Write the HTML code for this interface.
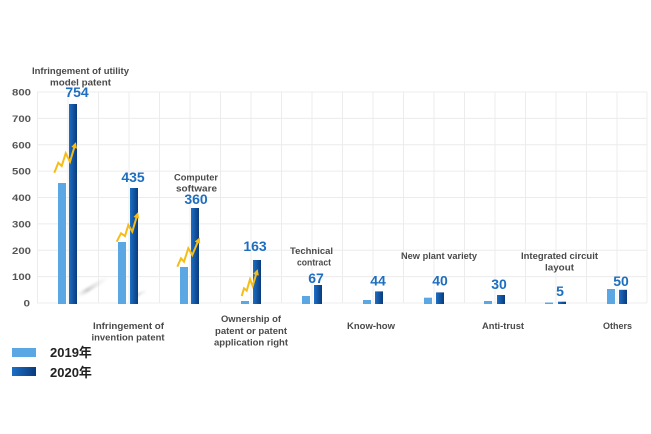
<!DOCTYPE html>
<html>
<head>
<meta charset="utf-8">
<style>
html,body{margin:0;padding:0;background:#fff;}
svg{display:block;}
text{font-family:"Liberation Sans","Noto Sans CJK SC",sans-serif;font-weight:bold;}
.cat{font-size:9.3px;fill:#4a4a4a;text-anchor:middle;}
.val{font-size:14px;fill:#1e6ebf;text-anchor:middle;}
.ax{font-size:9px;fill:#555;text-anchor:end;}
</style>
</head>
<body>
<svg width="651" height="434" viewBox="0 0 651 434" xmlns="http://www.w3.org/2000/svg">
<defs>
<linearGradient id="g20" x1="0" y1="0" x2="1" y2="0">
<stop offset="0" stop-color="#1b6fc6"/>
<stop offset="1" stop-color="#0a3b7c"/>
</linearGradient>
<linearGradient id="sh" x1="0" y1="1" x2="1" y2="0">
<stop offset="0" stop-color="#d0d0d0" stop-opacity="0"/>
<stop offset="0.3" stop-color="#c8c8c8" stop-opacity="0.9"/>
<stop offset="1" stop-color="#e0e0e0" stop-opacity="0"/>
</linearGradient>
<filter id="bl"><feGaussianBlur stdDeviation="1"/></filter>
<marker id="ah" markerWidth="6" markerHeight="6" refX="3" refY="3" orient="auto" markerUnits="userSpaceOnUse">
<path d="M0,0 L6,3 L0,6 z" fill="#f6bd16"/>
</marker>
</defs>
<rect width="651" height="434" fill="#fff"/>

<!-- grid -->
<g stroke="#ececec" stroke-width="1">
<line x1="37" y1="92" x2="647" y2="92"/>
<line x1="37" y1="118.4" x2="647" y2="118.4"/>
<line x1="37" y1="144.8" x2="647" y2="144.8"/>
<line x1="37" y1="171.1" x2="647" y2="171.1"/>
<line x1="37" y1="197.5" x2="647" y2="197.5"/>
<line x1="37" y1="223.9" x2="647" y2="223.9"/>
<line x1="37" y1="250.3" x2="647" y2="250.3"/>
<line x1="37" y1="276.6" x2="647" y2="276.6"/>
<line x1="37" y1="303" x2="647" y2="303"/>
<line x1="37.5" y1="92" x2="37.5" y2="303"/>
<line x1="68" y1="92" x2="68" y2="303"/>
<line x1="98.5" y1="92" x2="98.5" y2="303"/>
<line x1="129" y1="92" x2="129" y2="303"/>
<line x1="159.5" y1="92" x2="159.5" y2="303"/>
<line x1="190" y1="92" x2="190" y2="303"/>
<line x1="220.5" y1="92" x2="220.5" y2="303"/>
<line x1="251" y1="92" x2="251" y2="303"/>
<line x1="281.5" y1="92" x2="281.5" y2="303"/>
<line x1="312" y1="92" x2="312" y2="303"/>
<line x1="342.5" y1="92" x2="342.5" y2="303"/>
<line x1="373" y1="92" x2="373" y2="303"/>
<line x1="403.5" y1="92" x2="403.5" y2="303"/>
<line x1="434" y1="92" x2="434" y2="303"/>
<line x1="464.5" y1="92" x2="464.5" y2="303"/>
<line x1="495" y1="92" x2="495" y2="303"/>
<line x1="525.5" y1="92" x2="525.5" y2="303"/>
<line x1="556" y1="92" x2="556" y2="303"/>
<line x1="586.5" y1="92" x2="586.5" y2="303"/>
<line x1="617" y1="92" x2="617" y2="303"/>
<line x1="647" y1="92" x2="647" y2="303"/>
</g>

<!-- y axis labels -->
<text class="ax" x="31" y="95.5" textLength="19" lengthAdjust="spacingAndGlyphs">800</text>
<text class="ax" x="31" y="121.9" textLength="19" lengthAdjust="spacingAndGlyphs">700</text>
<text class="ax" x="31" y="148.3" textLength="19" lengthAdjust="spacingAndGlyphs">600</text>
<text class="ax" x="31" y="174.6" textLength="19" lengthAdjust="spacingAndGlyphs">500</text>
<text class="ax" x="31" y="201" textLength="19" lengthAdjust="spacingAndGlyphs">400</text>
<text class="ax" x="31" y="227.4" textLength="19" lengthAdjust="spacingAndGlyphs">300</text>
<text class="ax" x="31" y="253.8" textLength="19" lengthAdjust="spacingAndGlyphs">200</text>
<text class="ax" x="31" y="280.1" textLength="19" lengthAdjust="spacingAndGlyphs">100</text>
<text class="ax" x="30" y="306.5" textLength="6.5" lengthAdjust="spacingAndGlyphs">0</text>

<!-- shadows -->
<g filter="url(#bl)">
<line x1="78" y1="296" x2="108" y2="277" stroke="url(#sh)" stroke-width="4"/>
<line x1="131" y1="298" x2="147" y2="290" stroke="url(#sh)" stroke-width="3"/>
</g>

<!-- bars 2019 -->
<g fill="#5aa7e3">
<rect x="58" y="183" width="8" height="121"/>
<rect x="118" y="242" width="8" height="62"/>
<rect x="180" y="267" width="8" height="37"/>
<rect x="241" y="301" width="8" height="3"/>
<rect x="302" y="296" width="8" height="8"/>
<rect x="363" y="300" width="8" height="4"/>
<rect x="424" y="297.7" width="8" height="6.3"/>
<rect x="484" y="301" width="8" height="3"/>
<rect x="545" y="302.5" width="8" height="1.5"/>
<rect x="607" y="289" width="8" height="15"/>
</g>
<!-- bars 2020 -->
<g fill="url(#g20)">
<rect x="69" y="104" width="8" height="200"/>
<rect x="130" y="188" width="8" height="116"/>
<rect x="191" y="208" width="8" height="96"/>
<rect x="253" y="260" width="8" height="44"/>
<rect x="314" y="285" width="8" height="19"/>
<rect x="375" y="291.4" width="8" height="12.6"/>
<rect x="436" y="292.4" width="8" height="11.6"/>
<rect x="497" y="295" width="8" height="9"/>
<rect x="558" y="301.7" width="8" height="2.3"/>
<rect x="619" y="289.8" width="8" height="14.2"/>
</g>

<!-- yellow arrows -->
<g fill="none" stroke="#f6bd16" stroke-width="2" stroke-linejoin="miter" marker-end="url(#ah)">
<polyline points="54.3,172.7 58.3,162.7 61.7,166 65.7,153.3 70,161.7 75,145"/>
<polyline points="116.7,241.7 121,233.3 125,236 128.3,225 132.3,231.7 137.2,215"/>
<polyline points="177.3,266.7 181,258.3 184,261.7 188.3,248.3 192.3,255 198.6,240"/>
<polyline points="241.7,296 244,288.3 246.7,290.7 250,279.3 252.7,286 256.8,272"/>
</g>

<!-- value labels -->
<text class="val" x="77" y="97">754</text>
<text class="val" x="133" y="182">435</text>
<text class="val" x="196" y="204">360</text>
<text class="val" x="255" y="251">163</text>
<text class="val" x="316" y="283">67</text>
<text class="val" x="378" y="285.5">44</text>
<text class="val" x="440" y="285.5">40</text>
<text class="val" x="499" y="289">30</text>
<text class="val" x="560" y="296">5</text>
<text class="val" x="621" y="286">50</text>

<!-- top category labels -->
<text class="cat" x="80.5" y="74" textLength="97" lengthAdjust="spacingAndGlyphs">Infringement of utility</text>
<text class="cat" x="80.5" y="85.5" textLength="61" lengthAdjust="spacingAndGlyphs">model patent</text>
<text class="cat" x="196" y="180.5" textLength="44" lengthAdjust="spacingAndGlyphs">Computer</text>
<text class="cat" x="196.5" y="191.5" textLength="41" lengthAdjust="spacingAndGlyphs">software</text>
<text class="cat" x="311.5" y="254" textLength="43" lengthAdjust="spacingAndGlyphs">Technical</text>
<text class="cat" x="314" y="265.5" textLength="34" lengthAdjust="spacingAndGlyphs">contract</text>
<text class="cat" x="439" y="259" textLength="76" lengthAdjust="spacingAndGlyphs">New plant variety</text>
<text class="cat" x="559.5" y="259" textLength="77" lengthAdjust="spacingAndGlyphs">Integrated circuit</text>
<text class="cat" x="559.5" y="270.5" textLength="29" lengthAdjust="spacingAndGlyphs">layout</text>

<!-- bottom category labels -->
<text class="cat" x="128.5" y="329" textLength="71" lengthAdjust="spacingAndGlyphs">Infringement of</text>
<text class="cat" x="128" y="340.5" textLength="73" lengthAdjust="spacingAndGlyphs">invention patent</text>
<text class="cat" x="251" y="322" textLength="60" lengthAdjust="spacingAndGlyphs">Ownership of</text>
<text class="cat" x="251" y="334" textLength="72" lengthAdjust="spacingAndGlyphs">patent or patent</text>
<text class="cat" x="251" y="345.5" textLength="74" lengthAdjust="spacingAndGlyphs">application right</text>
<text class="cat" x="371" y="329" textLength="48" lengthAdjust="spacingAndGlyphs">Know-how</text>
<text class="cat" x="503" y="329" textLength="42" lengthAdjust="spacingAndGlyphs">Anti-trust</text>
<text class="cat" x="617.5" y="329" textLength="29" lengthAdjust="spacingAndGlyphs">Others</text>

<!-- legend -->
<rect x="12" y="348" width="24" height="9" fill="#5aa7e3"/>
<rect x="12" y="367" width="24" height="9" fill="url(#g20)"/>
<text x="50" y="357" style="font-size:13px;fill:#222;">2019年</text>
<text x="50" y="377" style="font-size:13px;fill:#222;">2020年</text>
</svg>
</body>
</html>
